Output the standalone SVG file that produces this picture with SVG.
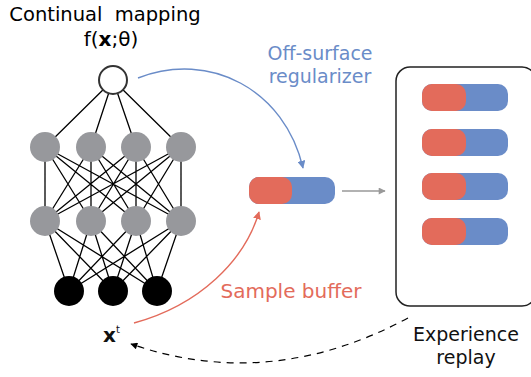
<svg xmlns="http://www.w3.org/2000/svg" width="531" height="377" viewBox="0 0 531 377">
<style>
.t{font-family:"DejaVu Sans","Liberation Sans",sans-serif;}
.e{stroke:#000;stroke-width:1.3;}
.g{fill:#97989c;}
.k{fill:#000;}
.red{fill:#e36b5b;}
.blue{fill:#6a8cc8;}
</style>
<defs>
<marker id="ab" viewBox="0 0 10 10" refX="9" refY="5" markerWidth="8" markerHeight="8" orient="auto" markerUnits="userSpaceOnUse"><path d="M0,0 L10,5 L0,10 z" fill="#6a8cc8"/></marker>
<marker id="ar" viewBox="0 0 10 10" refX="9" refY="5" markerWidth="8" markerHeight="8" orient="auto" markerUnits="userSpaceOnUse"><path d="M0,0 L10,5 L0,10 z" fill="#e36b5b"/></marker>
<marker id="ag" viewBox="0 0 10 10" refX="9" refY="5" markerWidth="9" markerHeight="7" orient="auto" markerUnits="userSpaceOnUse"><path d="M0,0 L10,5 L0,10 z" fill="#999"/></marker>
<marker id="ak" viewBox="0 0 10 10" refX="9" refY="5" markerWidth="9" markerHeight="7" orient="auto" markerUnits="userSpaceOnUse"><path d="M0,0 L10,5 L0,10 z" fill="#000"/></marker>
</defs>

<text class="t" x="105" y="21" font-size="19.5" text-anchor="middle" xml:space="preserve">Continual  mapping</text>
<text class="t" x="111" y="46" font-size="20" text-anchor="middle">f(<tspan font-weight="bold">x</tspan>;θ)</text>

<g id="edges">
<path class="e" d="M113,80 L45,147 M113,80 L91,147 M113,80 L136,147 M113,80 L181,147"/>
<path class="e" d="M45,147 L45,221 M45,147 L91,221 M45,147 L136,221 M45,147 L181,221
M91,147 L45,221 M91,147 L91,221 M91,147 L136,221 M91,147 L181,221
M136,147 L45,221 M136,147 L91,221 M136,147 L136,221 M136,147 L181,221
M181,147 L45,221 M181,147 L91,221 M181,147 L136,221 M181,147 L181,221"/>
<path class="e" d="M45,221 L69,291 M45,221 L113,291 M45,221 L157,291
M91,221 L69,291 M91,221 L113,291 M91,221 L157,291
M136,221 L69,291 M136,221 L113,291 M136,221 L157,291
M181,221 L69,291 M181,221 L113,291 M181,221 L157,291"/>
</g>

<g id="output"><circle cx="113" cy="80" r="14" fill="#fff" stroke="#333" stroke-width="2"/></g>
<g id="h1">
<circle class="g" cx="45" cy="147" r="15"/><circle class="g" cx="91" cy="147" r="15"/><circle class="g" cx="136" cy="147" r="15"/><circle class="g" cx="181" cy="147" r="15"/>
</g>
<g id="h2">
<circle class="g" cx="45" cy="221" r="15"/><circle class="g" cx="91" cy="221" r="15"/><circle class="g" cx="136" cy="221" r="15"/><circle class="g" cx="181" cy="221" r="15"/>
</g>
<g id="input">
<circle class="k" cx="69" cy="291" r="15"/><circle class="k" cx="113" cy="291" r="15"/><circle class="k" cx="157" cy="291" r="15"/>
</g>

<g id="connectors" fill="none">
<path d="M138,78 C210,50 285,90 303,168" stroke="#6a8cc8" stroke-width="1.4" marker-end="url(#ab)"/>
<path d="M134,323 C200,305 245,260 259,212" stroke="#e36b5b" stroke-width="1.4" marker-end="url(#ar)"/>
<path d="M342,191 L385,191" stroke="#999" stroke-width="1.4" marker-end="url(#ag)"/>
<path d="M408,318 Q270,392 131,344" stroke="#000" stroke-width="1.2" stroke-dasharray="7,6" marker-end="url(#ak)"/>
</g>

<g id="sample">
<rect class="blue" x="249" y="177" width="86" height="27" rx="10"/>
<rect class="red" x="249" y="177" width="43" height="27" rx="10"/>
</g>

<g id="replay">
<rect x="396" y="67" width="140" height="239" rx="14" fill="#fff" stroke="#222" stroke-width="1.5"/>
<rect class="blue" x="422" y="84" width="86" height="27" rx="10"/><rect class="red" x="422" y="84" width="44" height="27" rx="10"/>
<rect class="blue" x="422" y="129" width="86" height="27" rx="10"/><rect class="red" x="422" y="129" width="44" height="27" rx="10"/>
<rect class="blue" x="422" y="173" width="86" height="27" rx="10"/><rect class="red" x="422" y="173" width="44" height="27" rx="10"/>
<rect class="blue" x="422" y="218" width="86" height="27" rx="10"/><rect class="red" x="422" y="218" width="44" height="27" rx="10"/>
</g>

<text class="t" x="320" y="60" font-size="19" text-anchor="middle" fill="#6a8cc8">Off-surface</text>
<text class="t" x="320" y="83" font-size="19" text-anchor="middle" fill="#6a8cc8">regularizer</text>
<text class="t" x="291" y="298" font-size="20" text-anchor="middle" fill="#e36b5b">Sample buffer</text>
<text class="t" x="466" y="341" font-size="19" text-anchor="middle" fill="#111">Experience</text>
<text class="t" x="466" y="364" font-size="19" text-anchor="middle" fill="#111">replay</text>
<text class="t" x="103" y="342" font-size="20" font-weight="bold" fill="#111">x<tspan font-size="10" font-weight="normal" dy="-9">t</tspan></text>
</svg>
